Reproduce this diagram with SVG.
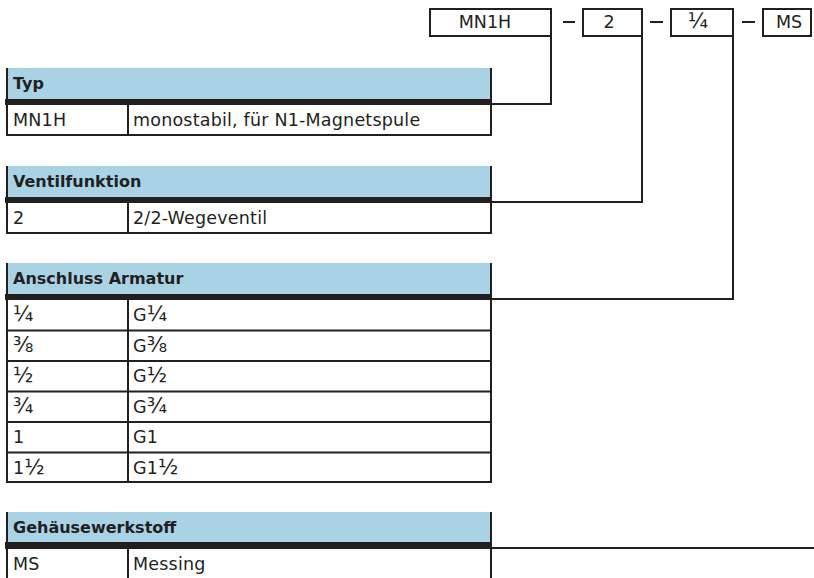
<svg xmlns="http://www.w3.org/2000/svg" width="814" height="578" viewBox="0 0 814 578">
<style>
  .bg{fill:#ffffff}
  .hdr{fill:#a9d3e5}
  .bar{fill:#231f20}
  .ln{stroke:#231f20;stroke-width:2;fill:none}
  .box{stroke:#231f20;stroke-width:2;fill:#ffffff}
  .t{font-family:"DejaVu Sans",sans-serif;font-size:17.5px;letter-spacing:0.2px;fill:#231f20}
  .tc{font-family:"DejaVu Sans",sans-serif;font-size:17.5px;fill:#231f20;text-anchor:middle}
  .th{font-family:"DejaVu Sans",sans-serif;font-size:16px;font-weight:bold;fill:#231f20}
  .fr{font-family:"DejaVu Sans",sans-serif;font-size:21px;letter-spacing:0}
</style>
<rect class="bg" x="0" y="0" width="814" height="578"/>

<!-- code boxes -->
<g id="code-mn1h">
  <rect class="box" x="430" y="9" width="121" height="27"/>
  <text class="tc" x="485" y="28">MN1H</text>
</g>
<g id="dash1"><line class="ln" x1="563" y1="22" x2="575" y2="22"/></g>
<g id="code-2">
  <rect class="box" x="583" y="9" width="59" height="27"/>
  <text class="tc" x="609" y="28">2</text>
</g>
<g id="dash2"><line class="ln" x1="650" y1="22" x2="663" y2="22"/></g>
<g id="code-quarter">
  <rect class="box" x="671" y="9" width="62" height="27"/>
  <text class="tc" x="698" y="28"><tspan class="fr">¼</tspan></text>
</g>
<g id="dash3"><line class="ln" x1="742" y1="22" x2="755" y2="22"/></g>
<g id="code-ms">
  <rect class="box" x="763" y="9" width="48" height="27"/>
  <text class="tc" x="789" y="28">MS</text>
</g>

<!-- connectors -->
<g id="connectors">
  <polyline class="ln" points="551,36 551,104 491,104"/>
  <polyline class="ln" points="642,36 642,202 491,202"/>
  <polyline class="ln" points="733,36 733,299 491,299"/>
  <line class="ln" x1="491" y1="548" x2="814" y2="548"/>
</g>

<!-- Typ -->
<g id="table-typ">
  <rect class="hdr" x="7" y="68" width="484" height="31"/>
  <rect class="bar" x="5" y="99" width="487" height="6"/>
  <line class="ln" x1="7" y1="68" x2="7" y2="136"/>
  <line class="ln" x1="491" y1="68" x2="491" y2="136"/>
  <line class="ln" x1="128" y1="105" x2="128" y2="136"/>
  <line class="ln" x1="6" y1="135" x2="492" y2="135"/>
  <text class="th" x="13" y="89">Typ</text>
  <text class="t" x="13" y="126">MN1H</text>
  <text class="t" x="133" y="126">monostabil, für N1-Magnetspule</text>
</g>

<!-- Ventilfunktion -->
<g id="table-ventilfunktion">
  <rect class="hdr" x="7" y="166" width="484" height="31"/>
  <rect class="bar" x="5" y="197" width="487" height="6"/>
  <line class="ln" x1="7" y1="166" x2="7" y2="234"/>
  <line class="ln" x1="491" y1="166" x2="491" y2="234"/>
  <line class="ln" x1="128" y1="203" x2="128" y2="234"/>
  <line class="ln" x1="6" y1="233" x2="492" y2="233"/>
  <text class="th" x="13" y="187">Ventilfunktion</text>
  <text class="t" x="13" y="224">2</text>
  <text class="t" x="133" y="224">2/2-Wegeventil</text>
</g>

<!-- Anschluss Armatur -->
<g id="table-anschluss">
  <rect class="hdr" x="7" y="263" width="484" height="31"/>
  <rect class="bar" x="5" y="294" width="487" height="6"/>
  <line class="ln" x1="7" y1="263" x2="7" y2="483"/>
  <line class="ln" x1="491" y1="263" x2="491" y2="483"/>
  <line class="ln" x1="128" y1="300" x2="128" y2="483"/>
  <line class="ln" x1="6" y1="330.5" x2="492" y2="330.5"/>
  <line class="ln" x1="6" y1="361" x2="492" y2="361"/>
  <line class="ln" x1="6" y1="391.5" x2="492" y2="391.5"/>
  <line class="ln" x1="6" y1="422" x2="492" y2="422"/>
  <line class="ln" x1="6" y1="452.5" x2="492" y2="452.5"/>
  <line class="ln" x1="6" y1="482" x2="492" y2="482"/>
  <text class="th" x="13" y="284">Anschluss Armatur</text>
  <text class="t" x="13" y="321"><tspan class="fr">¼</tspan></text><text class="t" x="133" y="321">G<tspan class="fr">¼</tspan></text>
  <text class="t" x="13" y="351.5"><tspan class="fr">⅜</tspan></text><text class="t" x="133" y="351.5">G<tspan class="fr">⅜</tspan></text>
  <text class="t" x="13" y="382"><tspan class="fr">½</tspan></text><text class="t" x="133" y="382">G<tspan class="fr">½</tspan></text>
  <text class="t" x="13" y="412.5"><tspan class="fr">¾</tspan></text><text class="t" x="133" y="412.5">G<tspan class="fr">¾</tspan></text>
  <text class="t" x="13" y="443">1</text><text class="t" x="133" y="443">G1</text>
  <text class="t" x="13" y="473.5">1<tspan class="fr">½</tspan></text><text class="t" x="133" y="473.5">G1<tspan class="fr">½</tspan></text>
</g>

<!-- Gehäusewerkstoff -->
<g id="table-gehaeuse">
  <rect class="hdr" x="7" y="512" width="484" height="30"/>
  <rect class="bar" x="5" y="542" width="487" height="7"/>
  <line class="ln" x1="7" y1="512" x2="7" y2="578"/>
  <line class="ln" x1="491" y1="512" x2="491" y2="578"/>
  <line class="ln" x1="128" y1="549" x2="128" y2="578"/>
  <text class="th" x="13" y="533">Gehäusewerkstoff</text>
  <text class="t" x="13" y="570">MS</text>
  <text class="t" x="133" y="570">Messing</text>
</g>
</svg>
